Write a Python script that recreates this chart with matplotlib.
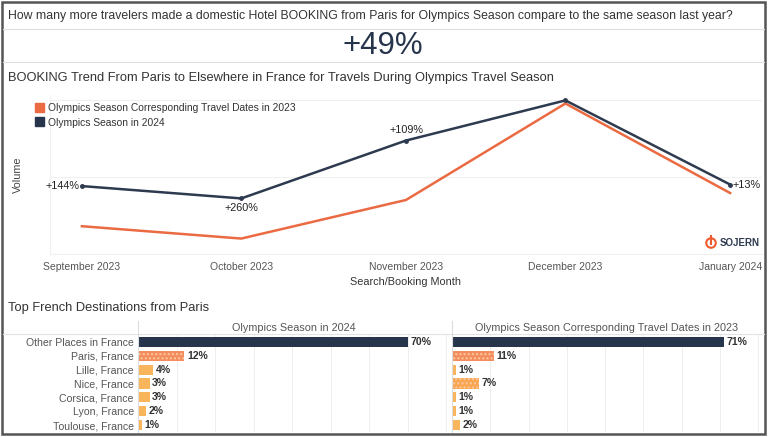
import numpy as np
import matplotlib.pyplot as plt
from matplotlib.patches import Rectangle, Ellipse

plt.rcParams['font.family'] = ['Liberation Sans', 'DejaVu Sans']

# trend data (relative volume, no scale shown)
months = ['2023-09-01', '2023-10-01', '2023-11-01', '2023-12-01', '2024-01-01']
month_labels = ['September 2023', 'October 2023', 'November 2023', 'December 2023', 'January 2024']
vol_2023 = [36, 20, 70, 195, 79]
vol_2024 = [88, 72, 147, 199, 90]
growth_labels = ['+144%', '+260%', '+109%', '', '+13%']

# destination shares
destinations = ['Other Places in France', 'Paris, France', 'Lille, France', 'Nice, France',
                'Corsica, France', 'Lyon, France', 'Toulouse, France']
share_2024 = [70, 12, 4, 3, 3, 2, 1]
share_2023 = [71, 11, 1, 7, 1, 1, 2]

navy = '#27354c'
orange = '#ea6a42'
W, H = 768, 437

def box(l, t, r, b):
    return [l / W, 1 - b / H, (r - l) / W, (b - t) / H]

fig = plt.figure(figsize=(W / 100, H / 100), dpi=100)

# frame and separators
fig.patches.append(Rectangle((2 / W, 1 - 434 / H), 763 / W, 432 / H, transform=fig.transFigure,
                             fill=False, edgecolor='#555555', lw=1.8))
for yy in [29, 62]:
    fig.add_artist(plt.Line2D([3 / W, 764 / W], [1 - yy / H] * 2, color='#dedede', lw=0.8))

fig.text(8 / W, 1 - 16 / H, 'How many more travelers made a domestic Hotel BOOKING from Paris for '
         'Olympics Season compare to the same season last year?', fontsize=8.8, color='#333333',
         va='center')
fig.text(383 / W, 1 - 46 / H, '+49%', fontsize=22.5, color='#27354c', ha='center', va='center')
fig.text(8 / W, 1 - 78 / H, 'BOOKING Trend From Paris to Elsewhere in France for Travels During '
         'Olympics Travel Season', fontsize=9.3, color='#333333', va='center')

# line chart
ax = fig.add_axes(box(50, 95, 762, 254))
x = np.array(months, dtype='datetime64[D]')
ax.plot(x, vol_2023, color=orange, lw=1.8, label='Olympics Season Corresponding Travel Dates in 2023')
ax.plot(x, vol_2024, color='#2d3a4f', lw=1.8, marker='o', ms=2.5,
        label='Olympics Season in 2024')
ax.set_ylim(0, 206)
ax.set_xlim(np.datetime64('2023-08-26'), np.datetime64('2024-01-07'))
ax.set_yticks([0, 100, 200])
ax.set_yticklabels([])
ax.tick_params(axis='y', length=0)
ax.grid(axis='y', color='#f0f0f0', lw=0.8)
ax.set_xticks(x)
ax.set_xticklabels(month_labels, fontsize=7.5, color='#555555')
ax.tick_params(axis='x', length=0, pad=5.5)
for s in ['top', 'right']:
    ax.spines[s].set_visible(False)
for s in ['left', 'bottom']:
    ax.spines[s].set_color('#f0f0f0')
ax.set_ylabel('Volume', fontsize=7.8, color='#444444', labelpad=16)
ax.set_xlabel('Search/Booking Month', fontsize=7.8, color='#333333', labelpad=4)

offsets = [((-2, 0), 'right', 'center'), ((0, -7), 'center', 'center'),
           ((0, 7.5), 'center', 'center'), ((0, 0), 'center', 'center'), ((2, 0), 'left', 'center')]
for xi, yi, lab, (off, ha, va) in zip(x, vol_2024, growth_labels, offsets):
    if lab:
        ax.annotate(lab, (xi, yi), xytext=off, textcoords='offset points', ha=ha, va=va,
                    fontsize=7.8, color='#222222')

leg = ax.legend(loc='upper left', bbox_to_anchor=(-0.031, 1.0), frameon=False, fontsize=7.4,
                handlelength=0.8, handleheight=0.8, handletextpad=0.4, labelspacing=0.5,
                borderaxespad=0.35)
for h in leg.legend_handles:
    h.set_visible(False)
for t in leg.get_texts():
    t.set_color('#333333')
# square legend markers
for yy, c in [(107, orange), (121, navy)]:
    fig.patches.append(Rectangle((35 / W, 1 - (yy + 4.5) / H), 8.5 / W, 8.5 / H,
                                 transform=fig.transFigure, color=c))

# logo
fig.patches.append(Ellipse((711 / W, 1 - 243 / H), 9.5 / W, 9.5 / H, transform=fig.transFigure,
                           fill=False, edgecolor='#ef5a2e', lw=1.5))
fig.add_artist(plt.Line2D([711 / W] * 2, [1 - 236 / H, 1 - 243.5 / H], color='#ef5a2e', lw=1.5))
fig.text(719.5 / W, 1 - 243 / H, 'SOJERN', fontsize=7, fontweight='bold', color='#2d3a4f',
         va='center')

# destinations section
fig.text(8 / W, 1 - 308 / H, 'Top French Destinations from Paris', fontsize=9.3, color='#333333',
         va='center')
fig.add_artist(plt.Line2D([3 / W, 764 / W], [1 - 334 / H] * 2, color='#e2e2e2', lw=0.8))

panels = [(138, 450, share_2024, 'Olympics Season in 2024'),
          (452, 762, share_2023, 'Olympics Season Corresponding Travel Dates in 2023')]
ypos = np.arange(len(destinations))
for i, (l, r, vals, title) in enumerate(panels):
    bx = fig.add_axes(box(l, 335, r, 432))
    cols = []
    hatches = []
    for j, v in enumerate(vals):
        if j == 0:
            cols.append(navy)
            hatches.append('')
        elif v >= 10:
            cols.append('#f38d5d')
            hatches.append('....')
        elif v >= 5:
            cols.append('#f9a650')
            hatches.append('....')
        else:
            cols.append('#f9b55b')
            hatches.append('')
    bars = bx.barh(ypos, vals, height=0.74, color=cols, edgecolor='none')
    for b, h in zip(bars, hatches):
        if h:
            b.set_hatch(h)
            b.set_edgecolor('#fbc9a4')
            b.set_linewidth(0)
    for yy, v in zip(ypos, vals):
        bx.text(v + 0.7, yy, f'{v}%', va='center', ha='left', fontsize=7.6, fontweight='bold',
                color='#333333')
    bx.set_xlim(0, 81)
    bx.set_ylim(len(destinations) - 0.5, -0.5)
    bx.set_xticks(np.arange(10, 81, 10))
    bx.grid(axis='x', color='#eeeeee', lw=0.7)
    bx.set_axisbelow(True)
    bx.tick_params(axis='x', length=0, labelbottom=False)
    bx.tick_params(axis='y', length=0, pad=3)
    bx.set_yticks(ypos)
    if i == 0:
        bx.set_yticklabels(destinations, fontsize=7.6, color='#555555')
    else:
        bx.set_yticklabels([])
    for s in ['top', 'right', 'bottom']:
        bx.spines[s].set_visible(False)
    bx.spines['left'].set_color('#dddddd')
    bx.spines['left'].set_linewidth(0.8)
    fig.add_artist(plt.Line2D([l / W] * 2, [1 - 321 / H, 1 - 335 / H], color='#dddddd', lw=0.8))
    fig.text((l + r) / 2 / W, 1 - 328 / H, title, fontsize=7.8, color='#555555', ha='center',
             va='center')

plt.savefig('out.png', dpi=100)
